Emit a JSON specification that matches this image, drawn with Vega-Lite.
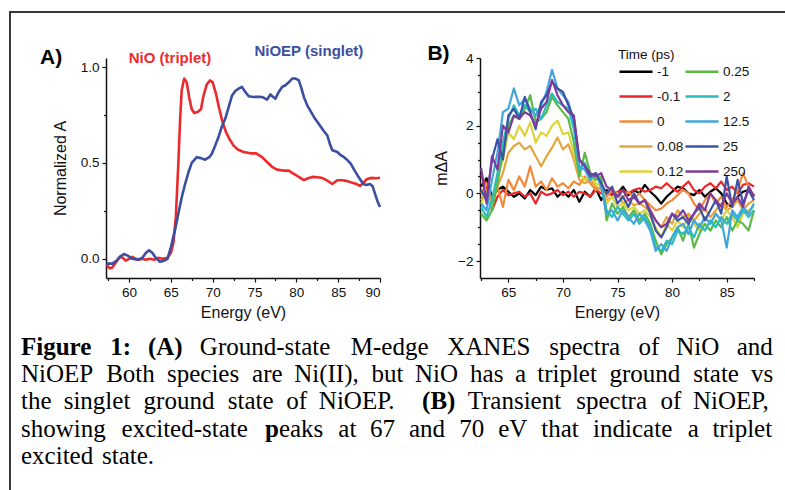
{
"$schema": "https://vega.github.io/schema/vega-lite/v6.json",
"padding": {"left": 7, "top": 9, "right": 0, "bottom": 0},
"background": "white",
"config": {
  "view": {"stroke": null},
  "font": "Liberation Sans",
  "axis": {"labelFont": "Liberation Sans", "titleFont": "Liberation Sans", "labelColor": "#111", "titleColor": "#111", "domainColor": "#111", "tickColor": "#111", "grid": false, "titleFontWeight": "normal", "labelFontSize": 13.5, "titleFontSize": 16, "domainWidth": 1.5, "tickWidth": 1.2, "tickSize": 4, "labelPadding": 3}
},
"datasets": {
  "one": [{}],
  "xanes": [
    {"s":"NiO","e":57.3,"v":-0.03},{"s":"NiO","e":57.7,"v":-0.05},{"s":"NiO","e":58.0,"v":-0.045},{"s":"NiO","e":58.4,"v":-0.02},{"s":"NiO","e":58.9,"v":0.01},{"s":"NiO","e":59.3,"v":0.005},{"s":"NiO","e":59.6,"v":-0.01},{"s":"NiO","e":60.0,"v":0.0},{"s":"NiO","e":60.4,"v":0.01},{"s":"NiO","e":60.8,"v":0.0},{"s":"NiO","e":61.2,"v":-0.005},{"s":"NiO","e":61.6,"v":0.0},{"s":"NiO","e":62.0,"v":-0.005},{"s":"NiO","e":62.5,"v":0.0},{"s":"NiO","e":63.0,"v":-0.005},{"s":"NiO","e":63.5,"v":0.005},{"s":"NiO","e":64.0,"v":0.0},{"s":"NiO","e":64.6,"v":0.005},{"s":"NiO","e":65.0,"v":0.03},{"s":"NiO","e":65.3,"v":0.08},{"s":"NiO","e":65.6,"v":0.22},{"s":"NiO","e":65.9,"v":0.5},{"s":"NiO","e":66.1,"v":0.72},{"s":"NiO","e":66.3,"v":0.88},{"s":"NiO","e":66.6,"v":0.94},{"s":"NiO","e":66.9,"v":0.92},{"s":"NiO","e":67.2,"v":0.84},{"s":"NiO","e":67.5,"v":0.78},{"s":"NiO","e":67.8,"v":0.76},{"s":"NiO","e":68.2,"v":0.765},{"s":"NiO","e":68.6,"v":0.78},{"s":"NiO","e":68.9,"v":0.85},{"s":"NiO","e":69.3,"v":0.91},{"s":"NiO","e":69.7,"v":0.93},{"s":"NiO","e":70.0,"v":0.92},{"s":"NiO","e":70.4,"v":0.86},{"s":"NiO","e":70.8,"v":0.78},{"s":"NiO","e":71.2,"v":0.71},{"s":"NiO","e":71.6,"v":0.66},{"s":"NiO","e":72.0,"v":0.625},{"s":"NiO","e":72.5,"v":0.59},{"s":"NiO","e":73.0,"v":0.57},{"s":"NiO","e":73.7,"v":0.557},{"s":"NiO","e":74.5,"v":0.55},{"s":"NiO","e":75.2,"v":0.55},{"s":"NiO","e":75.9,"v":0.53},{"s":"NiO","e":76.5,"v":0.505},{"s":"NiO","e":77.1,"v":0.48},{"s":"NiO","e":77.7,"v":0.465},{"s":"NiO","e":78.4,"v":0.46},{"s":"NiO","e":79.1,"v":0.46},{"s":"NiO","e":79.6,"v":0.445},{"s":"NiO","e":80.2,"v":0.43},{"s":"NiO","e":80.9,"v":0.41},{"s":"NiO","e":81.4,"v":0.42},{"s":"NiO","e":81.9,"v":0.427},{"s":"NiO","e":82.5,"v":0.425},{"s":"NiO","e":83.0,"v":0.423},{"s":"NiO","e":83.6,"v":0.41},{"s":"NiO","e":84.3,"v":0.39},{"s":"NiO","e":84.9,"v":0.41},{"s":"NiO","e":85.5,"v":0.41},{"s":"NiO","e":86.1,"v":0.405},{"s":"NiO","e":86.7,"v":0.396},{"s":"NiO","e":87.2,"v":0.39},{"s":"NiO","e":87.6,"v":0.38},{"s":"NiO","e":88.0,"v":0.395},{"s":"NiO","e":88.4,"v":0.415},{"s":"NiO","e":89.0,"v":0.422},{"s":"NiO","e":89.5,"v":0.42},{"s":"NiO","e":90.0,"v":0.423},
    {"s":"NiOEP","e":57.3,"v":-0.025},{"s":"NiOEP","e":58.0,"v":-0.025},{"s":"NiOEP","e":58.5,"v":-0.01},{"s":"NiOEP","e":58.9,"v":0.01},{"s":"NiOEP","e":59.4,"v":0.025},{"s":"NiOEP","e":59.9,"v":0.015},{"s":"NiOEP","e":60.4,"v":0.0},{"s":"NiOEP","e":61.0,"v":-0.005},{"s":"NiOEP","e":61.6,"v":0.005},{"s":"NiOEP","e":62.0,"v":0.03},{"s":"NiOEP","e":62.4,"v":0.045},{"s":"NiOEP","e":62.8,"v":0.03},{"s":"NiOEP","e":63.2,"v":0.005},{"s":"NiOEP","e":63.7,"v":-0.015},{"s":"NiOEP","e":64.2,"v":-0.01},{"s":"NiOEP","e":64.6,"v":0.0},{"s":"NiOEP","e":65.0,"v":0.06},{"s":"NiOEP","e":65.5,"v":0.15},{"s":"NiOEP","e":65.9,"v":0.236},{"s":"NiOEP","e":66.3,"v":0.32},{"s":"NiOEP","e":66.7,"v":0.39},{"s":"NiOEP","e":67.1,"v":0.45},{"s":"NiOEP","e":67.5,"v":0.5},{"s":"NiOEP","e":68.1,"v":0.53},{"s":"NiOEP","e":68.6,"v":0.525},{"s":"NiOEP","e":69.1,"v":0.517},{"s":"NiOEP","e":69.6,"v":0.53},{"s":"NiOEP","e":69.9,"v":0.548},{"s":"NiOEP","e":70.3,"v":0.59},{"s":"NiOEP","e":70.7,"v":0.635},{"s":"NiOEP","e":71.1,"v":0.69},{"s":"NiOEP","e":71.5,"v":0.73},{"s":"NiOEP","e":71.9,"v":0.79},{"s":"NiOEP","e":72.3,"v":0.85},{"s":"NiOEP","e":72.7,"v":0.875},{"s":"NiOEP","e":73.1,"v":0.887},{"s":"NiOEP","e":73.5,"v":0.896},{"s":"NiOEP","e":73.9,"v":0.87},{"s":"NiOEP","e":74.3,"v":0.848},{"s":"NiOEP","e":74.9,"v":0.844},{"s":"NiOEP","e":75.5,"v":0.845},{"s":"NiOEP","e":75.9,"v":0.844},{"s":"NiOEP","e":76.5,"v":0.83},{"s":"NiOEP","e":76.9,"v":0.857},{"s":"NiOEP","e":77.2,"v":0.845},{"s":"NiOEP","e":77.5,"v":0.835},{"s":"NiOEP","e":77.9,"v":0.87},{"s":"NiOEP","e":78.3,"v":0.896},{"s":"NiOEP","e":78.7,"v":0.905},{"s":"NiOEP","e":79.1,"v":0.92},{"s":"NiOEP","e":79.5,"v":0.94},{"s":"NiOEP","e":79.9,"v":0.94},{"s":"NiOEP","e":80.3,"v":0.93},{"s":"NiOEP","e":80.6,"v":0.89},{"s":"NiOEP","e":80.9,"v":0.844},{"s":"NiOEP","e":81.3,"v":0.8},{"s":"NiOEP","e":81.7,"v":0.77},{"s":"NiOEP","e":82.1,"v":0.74},{"s":"NiOEP","e":82.5,"v":0.715},{"s":"NiOEP","e":82.9,"v":0.69},{"s":"NiOEP","e":83.3,"v":0.665},{"s":"NiOEP","e":83.7,"v":0.644},{"s":"NiOEP","e":84.0,"v":0.6},{"s":"NiOEP","e":84.3,"v":0.566},{"s":"NiOEP","e":84.9,"v":0.557},{"s":"NiOEP","e":85.3,"v":0.54},{"s":"NiOEP","e":85.7,"v":0.53},{"s":"NiOEP","e":86.1,"v":0.515},{"s":"NiOEP","e":86.5,"v":0.496},{"s":"NiOEP","e":86.9,"v":0.465},{"s":"NiOEP","e":87.3,"v":0.436},{"s":"NiOEP","e":87.7,"v":0.41},{"s":"NiOEP","e":88.0,"v":0.39},{"s":"NiOEP","e":88.4,"v":0.385},{"s":"NiOEP","e":88.8,"v":0.39},{"s":"NiOEP","e":89.1,"v":0.38},{"s":"NiOEP","e":89.4,"v":0.34},{"s":"NiOEP","e":89.7,"v":0.3},{"s":"NiOEP","e":90.0,"v":0.27}
  ],
  "tagsA": [{"e": 50.7, "v": 1.047, "text": "A)"}],
  "speciesA": [{"e": 64.9, "v": 1.047, "text": "NiO (triplet)", "s": "NiO"}, {"e": 81.5, "v": 1.083, "text": "NiOEP (singlet)", "s": "NiOEP"}],
  "tagsB": [{"e": 58.6, "v": 4.11, "text": "B)"}],
  "transient": [
    {"t":"-1","e":62.5,"v":0.2},{"t":"-1","e":63,"v":0.45},{"t":"-1","e":63.5,"v":-0.1},{"t":"-1","e":64,"v":0.1},{"t":"-1","e":64.5,"v":0.2},{"t":"-1","e":65,"v":0.05},{"t":"-1","e":65.5,"v":-0.1},{"t":"-1","e":66,"v":0},{"t":"-1","e":66.5,"v":-0.15},{"t":"-1","e":67,"v":0.1},{"t":"-1","e":67.5,"v":-0.05},{"t":"-1","e":68,"v":0.2},{"t":"-1","e":68.5,"v":0.1},{"t":"-1","e":69,"v":0.15},{"t":"-1","e":69.5,"v":-0.1},{"t":"-1","e":70,"v":0.05},{"t":"-1","e":70.5,"v":-0.1},{"t":"-1","e":71,"v":0.1},{"t":"-1","e":71.5,"v":-0.25},{"t":"-1","e":72,"v":0.05},{"t":"-1","e":72.5,"v":-0.1},{"t":"-1","e":73,"v":0.15},{"t":"-1","e":73.5,"v":-0.2},{"t":"-1","e":74,"v":0.1},{"t":"-1","e":74.5,"v":-0.05},{"t":"-1","e":75,"v":0},{"t":"-1","e":75.5,"v":0.2},{"t":"-1","e":76,"v":-0.05},{"t":"-1","e":76.5,"v":0.1},{"t":"-1","e":77,"v":0},{"t":"-1","e":77.5,"v":0.25},{"t":"-1","e":78,"v":0.05},{"t":"-1","e":78.5,"v":-0.1},{"t":"-1","e":79,"v":-0.3},{"t":"-1","e":79.5,"v":-0.1},{"t":"-1","e":80,"v":0.05},{"t":"-1","e":80.5,"v":0.2},{"t":"-1","e":81,"v":0.15},{"t":"-1","e":81.5,"v":0},{"t":"-1","e":82,"v":-0.05},{"t":"-1","e":82.5,"v":0.1},{"t":"-1","e":83,"v":-0.1},{"t":"-1","e":83.5,"v":0.05},{"t":"-1","e":84,"v":0.15},{"t":"-1","e":84.5,"v":0},{"t":"-1","e":85,"v":-0.3},{"t":"-1","e":85.5,"v":-0.4},{"t":"-1","e":86,"v":-0.1},{"t":"-1","e":86.5,"v":0.05},{"t":"-1","e":87,"v":0.1},{"t":"-1","e":87.5,"v":-0.05},
    {"t":"-0.1","e":62.5,"v":0.55},{"t":"-0.1","e":63,"v":0.2},{"t":"-0.1","e":63.5,"v":-0.5},{"t":"-0.1","e":64,"v":-0.1},{"t":"-0.1","e":64.5,"v":0.1},{"t":"-0.1","e":65,"v":-0.05},{"t":"-0.1","e":65.5,"v":0},{"t":"-0.1","e":66,"v":0.05},{"t":"-0.1","e":66.5,"v":-0.1},{"t":"-0.1","e":67,"v":0},{"t":"-0.1","e":67.5,"v":-0.3},{"t":"-0.1","e":68,"v":0.05},{"t":"-0.1","e":68.5,"v":-0.05},{"t":"-0.1","e":69,"v":0},{"t":"-0.1","e":69.5,"v":0.1},{"t":"-0.1","e":70,"v":-0.05},{"t":"-0.1","e":70.5,"v":0.05},{"t":"-0.1","e":71,"v":-0.1},{"t":"-0.1","e":71.5,"v":0.05},{"t":"-0.1","e":72,"v":0},{"t":"-0.1","e":72.5,"v":-0.1},{"t":"-0.1","e":73,"v":0.1},{"t":"-0.1","e":73.5,"v":0},{"t":"-0.1","e":74,"v":-0.05},{"t":"-0.1","e":74.5,"v":0},{"t":"-0.1","e":75,"v":0.05},{"t":"-0.1","e":75.5,"v":0.1},{"t":"-0.1","e":76,"v":0},{"t":"-0.1","e":76.5,"v":0.1},{"t":"-0.1","e":77,"v":0.15},{"t":"-0.1","e":77.5,"v":0.05},{"t":"-0.1","e":78,"v":0.1},{"t":"-0.1","e":78.5,"v":0.2},{"t":"-0.1","e":79,"v":0.15},{"t":"-0.1","e":79.5,"v":0.3},{"t":"-0.1","e":80,"v":0.15},{"t":"-0.1","e":80.5,"v":0.05},{"t":"-0.1","e":81,"v":0.2},{"t":"-0.1","e":81.5,"v":0.35},{"t":"-0.1","e":82,"v":0.1},{"t":"-0.1","e":82.5,"v":0},{"t":"-0.1","e":83,"v":0.2},{"t":"-0.1","e":83.5,"v":0.3},{"t":"-0.1","e":84,"v":0.15},{"t":"-0.1","e":84.5,"v":0.35},{"t":"-0.1","e":85,"v":0.1},{"t":"-0.1","e":85.5,"v":0.2},{"t":"-0.1","e":86,"v":0},{"t":"-0.1","e":86.5,"v":0.25},{"t":"-0.1","e":87,"v":0.3},{"t":"-0.1","e":87.5,"v":0.2},
    {"t":"0","e":62.5,"v":0},{"t":"0","e":63,"v":0.3},{"t":"0","e":63.5,"v":-0.2},{"t":"0","e":64,"v":0.2},{"t":"0","e":64.5,"v":-0.4},{"t":"0","e":65,"v":0.4},{"t":"0","e":65.5,"v":0.1},{"t":"0","e":66,"v":0.5},{"t":"0","e":66.5,"v":0.2},{"t":"0","e":67,"v":0.8},{"t":"0","e":67.5,"v":0.2},{"t":"0","e":68,"v":0.35},{"t":"0","e":68.5,"v":0.1},{"t":"0","e":69,"v":0.45},{"t":"0","e":69.5,"v":0.2},{"t":"0","e":70,"v":0.3},{"t":"0","e":70.5,"v":0.15},{"t":"0","e":71,"v":0.35},{"t":"0","e":71.5,"v":0.25},{"t":"0","e":72,"v":0.5},{"t":"0","e":72.5,"v":0.3},{"t":"0","e":73,"v":0.1},{"t":"0","e":73.5,"v":0.2},{"t":"0","e":74,"v":-0.1},{"t":"0","e":74.5,"v":0.1},{"t":"0","e":75,"v":0},{"t":"0","e":75.5,"v":-0.1},{"t":"0","e":76,"v":0.05},{"t":"0","e":76.5,"v":-0.15},{"t":"0","e":77,"v":0},{"t":"0","e":77.5,"v":-0.2},{"t":"0","e":78,"v":-0.35},{"t":"0","e":78.5,"v":-0.5},{"t":"0","e":79,"v":-0.45},{"t":"0","e":79.5,"v":-0.3},{"t":"0","e":80,"v":-0.2},{"t":"0","e":80.5,"v":-0.05},{"t":"0","e":81,"v":0.1},{"t":"0","e":81.5,"v":0},{"t":"0","e":82,"v":-0.3},{"t":"0","e":82.5,"v":-0.5},{"t":"0","e":83,"v":-0.2},{"t":"0","e":83.5,"v":0},{"t":"0","e":84,"v":-0.3},{"t":"0","e":84.5,"v":-0.1},{"t":"0","e":85,"v":-0.4},{"t":"0","e":85.5,"v":-0.2},{"t":"0","e":86,"v":0.1},{"t":"0","e":86.5,"v":0.6},{"t":"0","e":87,"v":0.2},{"t":"0","e":87.5,"v":-0.1},
    {"t":"0.08","e":62.5,"v":-0.2},{"t":"0.08","e":63,"v":0.1},{"t":"0.08","e":63.5,"v":-0.3},{"t":"0.08","e":64,"v":0.2},{"t":"0.08","e":64.5,"v":0.6},{"t":"0.08","e":65,"v":1.2},{"t":"0.08","e":65.5,"v":1.4},{"t":"0.08","e":66,"v":1.5},{"t":"0.08","e":66.5,"v":1.3},{"t":"0.08","e":67,"v":1.4},{"t":"0.08","e":67.5,"v":1.1},{"t":"0.08","e":68,"v":0.8},{"t":"0.08","e":68.5,"v":1.1},{"t":"0.08","e":69,"v":1.35},{"t":"0.08","e":69.5,"v":1.65},{"t":"0.08","e":70,"v":1.3},{"t":"0.08","e":70.5,"v":1.45},{"t":"0.08","e":71,"v":1.0},{"t":"0.08","e":71.5,"v":0.4},{"t":"0.08","e":72,"v":0.3},{"t":"0.08","e":72.5,"v":0.4},{"t":"0.08","e":73,"v":0.2},{"t":"0.08","e":73.5,"v":0.1},{"t":"0.08","e":74,"v":-0.2},{"t":"0.08","e":74.5,"v":-0.1},{"t":"0.08","e":75,"v":0},{"t":"0.08","e":75.5,"v":-0.3},{"t":"0.08","e":76,"v":-0.2},{"t":"0.08","e":76.5,"v":-0.35},{"t":"0.08","e":77,"v":-0.3},{"t":"0.08","e":77.5,"v":-0.4},{"t":"0.08","e":78,"v":-0.55},{"t":"0.08","e":78.5,"v":-0.8},{"t":"0.08","e":79,"v":-1.0},{"t":"0.08","e":79.5,"v":-0.7},{"t":"0.08","e":80,"v":-0.9},{"t":"0.08","e":80.5,"v":-0.5},{"t":"0.08","e":81,"v":-0.7},{"t":"0.08","e":81.5,"v":-0.6},{"t":"0.08","e":82,"v":-0.8},{"t":"0.08","e":82.5,"v":-0.6},{"t":"0.08","e":83,"v":-0.45},{"t":"0.08","e":83.5,"v":-0.7},{"t":"0.08","e":84,"v":-0.5},{"t":"0.08","e":84.5,"v":-0.3},{"t":"0.08","e":85,"v":-0.5},{"t":"0.08","e":85.5,"v":-0.4},{"t":"0.08","e":86,"v":-0.2},{"t":"0.08","e":86.5,"v":-0.5},{"t":"0.08","e":87,"v":-0.3},{"t":"0.08","e":87.5,"v":-0.2},
    {"t":"0.12","e":62.5,"v":-0.3},{"t":"0.12","e":63,"v":0},{"t":"0.12","e":63.5,"v":-0.4},{"t":"0.12","e":64,"v":0.5},{"t":"0.12","e":64.5,"v":1.0},{"t":"0.12","e":65,"v":1.8},{"t":"0.12","e":65.5,"v":1.6},{"t":"0.12","e":66,"v":2.0},{"t":"0.12","e":66.5,"v":1.7},{"t":"0.12","e":67,"v":2.1},{"t":"0.12","e":67.5,"v":1.5},{"t":"0.12","e":68,"v":1.8},{"t":"0.12","e":68.5,"v":1.7},{"t":"0.12","e":69,"v":2.0},{"t":"0.12","e":69.5,"v":2.15},{"t":"0.12","e":70,"v":1.75},{"t":"0.12","e":70.5,"v":1.8},{"t":"0.12","e":71,"v":1.2},{"t":"0.12","e":71.5,"v":0.6},{"t":"0.12","e":72,"v":0.4},{"t":"0.12","e":72.5,"v":0.5},{"t":"0.12","e":73,"v":0.3},{"t":"0.12","e":73.5,"v":0.2},{"t":"0.12","e":74,"v":-0.3},{"t":"0.12","e":74.5,"v":-0.1},{"t":"0.12","e":75,"v":-0.4},{"t":"0.12","e":75.5,"v":-0.3},{"t":"0.12","e":76,"v":-0.5},{"t":"0.12","e":76.5,"v":-0.4},{"t":"0.12","e":77,"v":-0.6},{"t":"0.12","e":77.5,"v":-0.5},{"t":"0.12","e":78,"v":-0.7},{"t":"0.12","e":78.5,"v":-1.0},{"t":"0.12","e":79,"v":-1.3},{"t":"0.12","e":79.5,"v":-0.9},{"t":"0.12","e":80,"v":-1.1},{"t":"0.12","e":80.5,"v":-0.8},{"t":"0.12","e":81,"v":-1.0},{"t":"0.12","e":81.5,"v":-0.7},{"t":"0.12","e":82,"v":-0.9},{"t":"0.12","e":82.5,"v":-1.1},{"t":"0.12","e":83,"v":-0.7},{"t":"0.12","e":83.5,"v":-0.9},{"t":"0.12","e":84,"v":-0.6},{"t":"0.12","e":84.5,"v":-0.8},{"t":"0.12","e":85,"v":-0.5},{"t":"0.12","e":85.5,"v":-0.7},{"t":"0.12","e":86,"v":-1.0},{"t":"0.12","e":86.5,"v":-0.6},{"t":"0.12","e":87,"v":-0.5},{"t":"0.12","e":87.5,"v":-0.4},
    {"t":"0.25","e":62.5,"v":-0.6},{"t":"0.25","e":63,"v":-0.8},{"t":"0.25","e":63.5,"v":-0.5},{"t":"0.25","e":64,"v":0.3},{"t":"0.25","e":64.5,"v":1.2},{"t":"0.25","e":65,"v":2.0},{"t":"0.25","e":65.5,"v":2.3},{"t":"0.25","e":66,"v":2.2},{"t":"0.25","e":66.5,"v":2.5},{"t":"0.25","e":67,"v":2.9},{"t":"0.25","e":67.5,"v":2.1},{"t":"0.25","e":68,"v":2.2},{"t":"0.25","e":68.5,"v":2.4},{"t":"0.25","e":69,"v":2.85},{"t":"0.25","e":69.5,"v":2.6},{"t":"0.25","e":70,"v":2.4},{"t":"0.25","e":70.5,"v":2.2},{"t":"0.25","e":71,"v":1.5},{"t":"0.25","e":71.5,"v":0.5},{"t":"0.25","e":72,"v":1.2},{"t":"0.25","e":72.5,"v":0.6},{"t":"0.25","e":73,"v":0.4},{"t":"0.25","e":73.5,"v":0.5},{"t":"0.25","e":74,"v":-0.8},{"t":"0.25","e":74.5,"v":-0.3},{"t":"0.25","e":75,"v":-0.6},{"t":"0.25","e":75.5,"v":-0.4},{"t":"0.25","e":76,"v":-0.7},{"t":"0.25","e":76.5,"v":-0.5},{"t":"0.25","e":77,"v":-0.8},{"t":"0.25","e":77.5,"v":-0.6},{"t":"0.25","e":78,"v":-0.9},{"t":"0.25","e":78.5,"v":-1.4},{"t":"0.25","e":79,"v":-1.8},{"t":"0.25","e":79.5,"v":-1.5},{"t":"0.25","e":80,"v":-1.3},{"t":"0.25","e":80.5,"v":-1.0},{"t":"0.25","e":81,"v":-1.4},{"t":"0.25","e":81.5,"v":-0.9},{"t":"0.25","e":82,"v":-1.6},{"t":"0.25","e":82.5,"v":-1.2},{"t":"0.25","e":83,"v":-0.9},{"t":"0.25","e":83.5,"v":-1.1},{"t":"0.25","e":84,"v":-0.8},{"t":"0.25","e":84.5,"v":-1.0},{"t":"0.25","e":85,"v":-0.7},{"t":"0.25","e":85.5,"v":-1.1},{"t":"0.25","e":86,"v":-0.8},{"t":"0.25","e":86.5,"v":-0.9},{"t":"0.25","e":87,"v":-1.1},{"t":"0.25","e":87.5,"v":-0.5},
    {"t":"2","e":62.5,"v":-0.4},{"t":"2","e":63,"v":-0.7},{"t":"2","e":63.5,"v":-0.2},{"t":"2","e":64,"v":0.6},{"t":"2","e":64.5,"v":1.5},{"t":"2","e":65,"v":2.2},{"t":"2","e":65.5,"v":2.6},{"t":"2","e":66,"v":2.3},{"t":"2","e":66.5,"v":2.6},{"t":"2","e":67,"v":2.4},{"t":"2","e":67.5,"v":2.5},{"t":"2","e":68,"v":2.2},{"t":"2","e":68.5,"v":2.6},{"t":"2","e":69,"v":2.95},{"t":"2","e":69.5,"v":2.7},{"t":"2","e":70,"v":2.6},{"t":"2","e":70.5,"v":2.5},{"t":"2","e":71,"v":1.9},{"t":"2","e":71.5,"v":0.7},{"t":"2","e":72,"v":0.9},{"t":"2","e":72.5,"v":0.5},{"t":"2","e":73,"v":0.6},{"t":"2","e":73.5,"v":0.3},{"t":"2","e":74,"v":-0.5},{"t":"2","e":74.5,"v":-0.7},{"t":"2","e":75,"v":-0.4},{"t":"2","e":75.5,"v":-0.6},{"t":"2","e":76,"v":-0.8},{"t":"2","e":76.5,"v":-0.6},{"t":"2","e":77,"v":-0.9},{"t":"2","e":77.5,"v":-0.7},{"t":"2","e":78,"v":-1.0},{"t":"2","e":78.5,"v":-1.6},{"t":"2","e":79,"v":-1.7},{"t":"2","e":79.5,"v":-1.4},{"t":"2","e":80,"v":-1.5},{"t":"2","e":80.5,"v":-1.1},{"t":"2","e":81,"v":-1.2},{"t":"2","e":81.5,"v":-1.0},{"t":"2","e":82,"v":-1.3},{"t":"2","e":82.5,"v":-0.9},{"t":"2","e":83,"v":-1.1},{"t":"2","e":83.5,"v":-0.8},{"t":"2","e":84,"v":-1.0},{"t":"2","e":84.5,"v":-0.7},{"t":"2","e":85,"v":-0.9},{"t":"2","e":85.5,"v":-0.6},{"t":"2","e":86,"v":-0.8},{"t":"2","e":86.5,"v":-0.5},{"t":"2","e":87,"v":-0.7},{"t":"2","e":87.5,"v":-0.5},
    {"t":"12.5","e":62.5,"v":-0.3},{"t":"12.5","e":63,"v":-0.5},{"t":"12.5","e":63.5,"v":0.4},{"t":"12.5","e":64,"v":1.2},{"t":"12.5","e":64.5,"v":2.4},{"t":"12.5","e":65,"v":2.5},{"t":"12.5","e":65.5,"v":3.1},{"t":"12.5","e":66,"v":2.6},{"t":"12.5","e":66.5,"v":2.8},{"t":"12.5","e":67,"v":2.5},{"t":"12.5","e":67.5,"v":2.3},{"t":"12.5","e":68,"v":2.6},{"t":"12.5","e":68.5,"v":3.0},{"t":"12.5","e":69,"v":3.65},{"t":"12.5","e":69.5,"v":3.1},{"t":"12.5","e":70,"v":2.9},{"t":"12.5","e":70.5,"v":2.7},{"t":"12.5","e":71,"v":2.1},{"t":"12.5","e":71.5,"v":0.8},{"t":"12.5","e":72,"v":0.7},{"t":"12.5","e":72.5,"v":0.4},{"t":"12.5","e":73,"v":0.6},{"t":"12.5","e":73.5,"v":0.2},{"t":"12.5","e":74,"v":-0.6},{"t":"12.5","e":74.5,"v":-0.5},{"t":"12.5","e":75,"v":-0.8},{"t":"12.5","e":75.5,"v":-0.5},{"t":"12.5","e":76,"v":-0.7},{"t":"12.5","e":76.5,"v":-0.9},{"t":"12.5","e":77,"v":-0.6},{"t":"12.5","e":77.5,"v":-0.8},{"t":"12.5","e":78,"v":-1.1},{"t":"12.5","e":78.5,"v":-1.7},{"t":"12.5","e":79,"v":-1.5},{"t":"12.5","e":79.5,"v":-1.7},{"t":"12.5","e":80,"v":-1.3},{"t":"12.5","e":80.5,"v":-1.0},{"t":"12.5","e":81,"v":-0.9},{"t":"12.5","e":81.5,"v":-1.2},{"t":"12.5","e":82,"v":-0.8},{"t":"12.5","e":82.5,"v":-1.0},{"t":"12.5","e":83,"v":-0.7},{"t":"12.5","e":83.5,"v":-0.9},{"t":"12.5","e":84,"v":-0.6},{"t":"12.5","e":84.5,"v":-0.8},{"t":"12.5","e":85,"v":-1.6},{"t":"12.5","e":85.5,"v":-0.5},{"t":"12.5","e":86,"v":-0.7},{"t":"12.5","e":86.5,"v":-0.4},{"t":"12.5","e":87,"v":-0.6},{"t":"12.5","e":87.5,"v":-0.3},
    {"t":"25","e":62.5,"v":0.1},{"t":"25","e":63,"v":-0.2},{"t":"25","e":63.5,"v":1.0},{"t":"25","e":64,"v":1.6},{"t":"25","e":64.5,"v":1.0},{"t":"25","e":65,"v":2.3},{"t":"25","e":65.5,"v":2.5},{"t":"25","e":66,"v":2.2},{"t":"25","e":66.5,"v":2.85},{"t":"25","e":67,"v":2.4},{"t":"25","e":67.5,"v":1.9},{"t":"25","e":68,"v":2.7},{"t":"25","e":68.5,"v":2.9},{"t":"25","e":69,"v":3.3},{"t":"25","e":69.5,"v":3.1},{"t":"25","e":70,"v":3.0},{"t":"25","e":70.5,"v":2.6},{"t":"25","e":71,"v":2.2},{"t":"25","e":71.5,"v":1.0},{"t":"25","e":72,"v":0.8},{"t":"25","e":72.5,"v":0.5},{"t":"25","e":73,"v":0.6},{"t":"25","e":73.5,"v":0.3},{"t":"25","e":74,"v":0},{"t":"25","e":74.5,"v":0.2},{"t":"25","e":75,"v":-0.3},{"t":"25","e":75.5,"v":-0.1},{"t":"25","e":76,"v":-0.4},{"t":"25","e":76.5,"v":0},{"t":"25","e":77,"v":-0.3},{"t":"25","e":77.5,"v":-0.2},{"t":"25","e":78,"v":-0.6},{"t":"25","e":78.5,"v":-1.1},{"t":"25","e":79,"v":-1.3},{"t":"25","e":79.5,"v":-1.0},{"t":"25","e":80,"v":-0.6},{"t":"25","e":80.5,"v":-0.8},{"t":"25","e":81,"v":-0.7},{"t":"25","e":81.5,"v":-0.9},{"t":"25","e":82,"v":-0.6},{"t":"25","e":82.5,"v":-0.4},{"t":"25","e":83,"v":-0.8},{"t":"25","e":83.5,"v":-0.5},{"t":"25","e":84,"v":-0.2},{"t":"25","e":84.5,"v":-0.6},{"t":"25","e":85,"v":0.5},{"t":"25","e":85.5,"v":-0.4},{"t":"25","e":86,"v":0.4},{"t":"25","e":86.5,"v":-0.3},{"t":"25","e":87,"v":0.1},{"t":"25","e":87.5,"v":-0.2},
    {"t":"250","e":62.5,"v":0.75},{"t":"250","e":63,"v":-0.3},{"t":"250","e":63.5,"v":1.1},{"t":"250","e":64,"v":0.7},{"t":"250","e":64.5,"v":2.0},{"t":"250","e":65,"v":1.8},{"t":"250","e":65.5,"v":2.3},{"t":"250","e":66,"v":2.2},{"t":"250","e":66.5,"v":2.4},{"t":"250","e":67,"v":2.3},{"t":"250","e":67.5,"v":2.0},{"t":"250","e":68,"v":2.5},{"t":"250","e":68.5,"v":2.7},{"t":"250","e":69,"v":3.35},{"t":"250","e":69.5,"v":2.9},{"t":"250","e":70,"v":2.6},{"t":"250","e":70.5,"v":2.4},{"t":"250","e":71,"v":2.3},{"t":"250","e":71.5,"v":1.0},{"t":"250","e":72,"v":0.8},{"t":"250","e":72.5,"v":0.6},{"t":"250","e":73,"v":0.5},{"t":"250","e":73.5,"v":0.6},{"t":"250","e":74,"v":0.2},{"t":"250","e":74.5,"v":0.1},{"t":"250","e":75,"v":-0.1},{"t":"250","e":75.5,"v":0.1},{"t":"250","e":76,"v":-0.2},{"t":"250","e":76.5,"v":-0.1},{"t":"250","e":77,"v":-0.3},{"t":"250","e":77.5,"v":-0.2},{"t":"250","e":78,"v":-0.5},{"t":"250","e":78.5,"v":-0.8},{"t":"250","e":79,"v":-1.0},{"t":"250","e":79.5,"v":-0.9},{"t":"250","e":80,"v":-0.6},{"t":"250","e":80.5,"v":-0.7},{"t":"250","e":81,"v":-0.5},{"t":"250","e":81.5,"v":-0.8},{"t":"250","e":82,"v":-0.6},{"t":"250","e":82.5,"v":-0.3},{"t":"250","e":83,"v":-0.5},{"t":"250","e":83.5,"v":0},{"t":"250","e":84,"v":-0.2},{"t":"250","e":84.5,"v":-0.4},{"t":"250","e":85,"v":0},{"t":"250","e":85.5,"v":-0.3},{"t":"250","e":86,"v":-0.1},{"t":"250","e":86.5,"v":-0.4},{"t":"250","e":87,"v":0.2},{"t":"250","e":87.5,"v":-0.1}
  ],
  "caption": [
    {"line":1,"at":12,"text":"Figure","role":"label"},{"line":1,"at":101.25,"text":"1:","role":"label"},{"line":1,"at":138.9,"text":"(A)","role":"label"},
    {"line":1,"at":190.87,"text":"Ground-state","role":"body"},{"line":1,"at":341.73,"text":"M-edge","role":"body"},{"line":1,"at":438.13,"text":"XANES","role":"body"},{"line":1,"at":540.28,"text":"spectra","role":"body"},{"line":1,"at":629.51,"text":"of","role":"body"},{"line":1,"at":667.16,"text":"NiO","role":"body"},{"line":1,"at":727.75,"text":"and","role":"body"},
    {"line":2,"at":12,"text":"NiOEP","role":"body"},{"line":2,"at":97.16,"text":"Both","role":"body"},{"line":2,"at":157.96,"text":"species","role":"body"},{"line":2,"at":243.09,"text":"are","role":"body"},{"line":2,"at":285.21,"text":"Ni(II),","role":"body"},{"line":2,"at":362.45,"text":"but","role":"body"},{"line":2,"at":406.04,"text":"NiO","role":"body"},{"line":2,"at":461.09,"text":"has","role":"body"},{"line":2,"at":506.1,"text":"a","role":"body"},{"line":2,"at":528.18,"text":"triplet","role":"body"},{"line":2,"at":600.44,"text":"ground","role":"body"},{"line":2,"at":684.15,"text":"state","role":"body"},{"line":2,"at":742.06,"text":"vs","role":"body"},
    {"line":3,"at":12,"text":"the","role":"body"},{"line":3,"at":54.66,"text":"singlet","role":"body"},{"line":3,"at":134.6,"text":"ground","role":"body"},{"line":3,"at":218.82,"text":"state","role":"body"},{"line":3,"at":277.24,"text":"of","role":"body"},{"line":3,"at":309.86,"text":"NiOEP.","role":"body"},{"line":3,"at":413.11,"text":"(B)","role":"label"},{"line":3,"at":458.63,"text":"Transient","role":"body"},{"line":3,"at":567.21,"text":"spectra","role":"body"},{"line":3,"at":651.41,"text":"of","role":"body"},{"line":3,"at":684.03,"text":"NiOEP,","role":"body"},
    {"line":4,"at":12,"text":"showing","role":"body"},{"line":4,"at":112.53,"text":"excited-state","role":"body"},{"line":4,"at":256.01,"text":"p","role":"label"},{"line":4,"at":269.9,"text":"eaks","role":"body"},{"line":4,"at":329.29,"text":"at","role":"body"},{"line":4,"at":361.01,"text":"67","role":"body"},{"line":4,"at":399.9,"text":"and","role":"body"},{"line":4,"at":450.25,"text":"70","role":"body"},{"line":4,"at":489.14,"text":"eV","role":"body"},{"line":4,"at":532.31,"text":"that","role":"body"},{"line":4,"at":584.1,"text":"indicate","role":"body"},{"line":4,"at":678.87,"text":"a","role":"body"},{"line":4,"at":703.42,"text":"triplet","role":"body"},
    {"line":5,"at":12,"text":"excited","role":"body"},{"line":5,"at":92.96,"text":"state.","role":"body"}
  ]
},
"columns": 6,
"spacing": 0,
"bounds": "flush",
"align": "each",
"resolve": {"scale": {"color": "independent"}, "legend": {"color": "independent"}},
"concat": [
  {"width": 2, "height": 2, "view": {"fill": "#383838"}, "data": {"name": "one"}, "mark": {"type": "point", "opacity": 0}},
  {"width": 95, "height": 2, "view": {"fill": "#383838"}, "data": {"name": "one"}, "mark": {"type": "point", "opacity": 0}},
  {"width": 274, "height": 2, "view": {"fill": "#383838"}, "data": {"name": "one"}, "mark": {"type": "point", "opacity": 0}},
  {"width": 100, "height": 2, "view": {"fill": "#383838"}, "data": {"name": "one"}, "mark": {"type": "point", "opacity": 0}},
  {"width": 274, "height": 2, "view": {"fill": "#383838"}, "data": {"name": "one"}, "mark": {"type": "point", "opacity": 0}},
  {"width": 40, "height": 2, "view": {"fill": "#383838"}, "data": {"name": "one"}, "mark": {"type": "point", "opacity": 0}},

  {"width": 2, "height": 45, "view": {"fill": "#383838"}, "data": {"name": "one"}, "mark": {"type": "point", "opacity": 0}},
  {"width": 1, "height": 1, "data": {"name": "one"}, "mark": {"type": "point", "opacity": 0}},
  {"width": 1, "height": 1, "data": {"name": "one"}, "mark": {"type": "point", "opacity": 0}},
  {"width": 1, "height": 1, "data": {"name": "one"}, "mark": {"type": "point", "opacity": 0}},
  {"width": 1, "height": 1, "data": {"name": "one"}, "mark": {"type": "point", "opacity": 0}},
  {"width": 1, "height": 1, "data": {"name": "one"}, "mark": {"type": "point", "opacity": 0}},

  {"width": 2, "height": 220, "view": {"fill": "#383838"}, "data": {"name": "one"}, "mark": {"type": "point", "opacity": 0}},
  {"width": 1, "height": 1, "data": {"name": "one"}, "mark": {"type": "point", "opacity": 0}},
  {
    "width": 274, "height": 220,
    "layer": [
      {"data": {"name": "xanes"}, "mark": {"type": "line", "strokeWidth": 2.6, "strokeJoin": "round"},
       "encoding": {
         "x": {"field": "e", "type": "quantitative", "scale": {"domain": [57.25, 90], "nice": false, "zero": false}, "axis": {"values": [60, 65, 70, 75, 80, 85, 90], "title": "Energy (eV)", "titlePadding": 6}},
         "y": {"field": "v", "type": "quantitative", "scale": {"domain": [-0.1, 1.047], "nice": false, "zero": false}, "axis": {"values": [0, 0.5, 1], "format": ".1f", "title": "Normalized A", "titlePadding": 12}},
         "color": {"field": "s", "type": "nominal", "scale": {"domain": ["NiO", "NiOEP"], "range": ["#ec2a2c", "#3a4fa2"]}, "legend": null}
       }},
      {"data": {"name": "xanes"}, "mark": {"type": "line", "opacity": 0},
       "encoding": {
         "x": {"field": "e", "type": "quantitative", "axis": {"values": [57.5, 62.5, 67.5, 72.5, 77.5, 82.5, 87.5], "labels": false, "domain": false, "tickSize": 2.5, "title": null, "orient": "bottom"}},
         "y": {"field": "v", "type": "quantitative", "axis": {"values": [0.25, 0.75], "labels": false, "domain": false, "tickSize": 2.5, "title": null, "orient": "left"}}
       }},
      {"data": {"name": "tagsA"}, "mark": {"type": "text", "fontSize": 21, "fontWeight": "bold", "color": "#000"},
       "encoding": {"x": {"field": "e", "type": "quantitative", "axis": null}, "y": {"field": "v", "type": "quantitative", "axis": null}, "text": {"field": "text"}}},
      {"data": {"name": "speciesA"}, "mark": {"type": "text", "fontSize": 15, "fontWeight": "bold"},
       "encoding": {"x": {"field": "e", "type": "quantitative", "axis": null}, "y": {"field": "v", "type": "quantitative", "axis": null}, "text": {"field": "text"}, "color": {"field": "s", "type": "nominal", "legend": null}}}
    ],
    "resolve": {"axis": {"x": "independent", "y": "independent"}}
  },
  {"width": 1, "height": 1, "data": {"name": "one"}, "mark": {"type": "point", "opacity": 0}},
  {
    "width": 274, "height": 220,
    "layer": [
      {"data": {"name": "transient"}, "mark": {"type": "line", "strokeWidth": 2.2, "strokeJoin": "round"},
       "encoding": {
         "x": {"field": "e", "type": "quantitative", "scale": {"domain": [62.4, 87.5], "nice": false, "zero": false}, "axis": {"values": [65, 70, 75, 80, 85], "title": "Energy (eV)", "titlePadding": 6}},
         "y": {"field": "v", "type": "quantitative", "scale": {"domain": [-2.5, 4], "nice": false, "zero": false}, "axis": {"values": [-2, 0, 2, 4], "format": "d", "title": "mΔA", "titlePadding": 8}},
         "color": {"field": "t", "type": "nominal",
           "scale": {"domain": ["-1", "-0.1", "0", "0.08", "0.12", "0.25", "2", "12.5", "25", "250"], "range": ["#000000", "#e8262b", "#f08b3c", "#e4a43e", "#dcd43e", "#5cb947", "#2bbdbd", "#40a6dc", "#3b53a6", "#7d3c9c"]},
           "legend": {"orient": "none", "legendX": 138, "legendY": -10, "columns": 2, "title": "Time (ps)", "titleFont": "Liberation Sans", "titleFontSize": 13.5, "titleFontWeight": "normal", "titleColor": "#111", "labelFont": "Liberation Sans", "labelFontSize": 13.5, "labelColor": "#111", "symbolType": "stroke", "symbolSize": 1089, "symbolStrokeWidth": 2.6, "columnPadding": -5, "rowPadding": -2, "labelOffset": 3, "titlePadding": -8, "padding": 0}}
       }},
      {"data": {"name": "transient"}, "mark": {"type": "line", "opacity": 0},
       "encoding": {
         "x": {"field": "e", "type": "quantitative", "axis": {"values": [62.5, 67.5, 72.5, 77.5, 82.5, 87.5], "labels": false, "domain": false, "tickSize": 2.5, "title": null, "orient": "bottom"}},
         "y": {"field": "v", "type": "quantitative", "axis": {"values": [-1.5, -1, -0.5, 0.5, 1, 1.5, 2.5, 3, 3.5], "labels": false, "domain": false, "tickSize": 2.5, "title": null, "orient": "left"}}
       }},
      {"data": {"name": "tagsB"}, "mark": {"type": "text", "fontSize": 21, "fontWeight": "bold", "color": "#000"},
       "encoding": {"x": {"field": "e", "type": "quantitative", "axis": null}, "y": {"field": "v", "type": "quantitative", "axis": null}, "text": {"field": "text"}}}
    ],
    "resolve": {"axis": {"x": "independent", "y": "independent"}}
  },
  {"width": 1, "height": 1, "data": {"name": "one"}, "mark": {"type": "point", "opacity": 0}},

  {"width": 2, "height": 46, "view": {"fill": "#383838"}, "data": {"name": "one"}, "mark": {"type": "point", "opacity": 0}},
  {"width": 1, "height": 1, "data": {"name": "one"}, "mark": {"type": "point", "opacity": 0}},
  {"width": 1, "height": 1, "data": {"name": "one"}, "mark": {"type": "point", "opacity": 0}},
  {"width": 1, "height": 1, "data": {"name": "one"}, "mark": {"type": "point", "opacity": 0}},
  {"width": 1, "height": 1, "data": {"name": "one"}, "mark": {"type": "point", "opacity": 0}},
  {"width": 1, "height": 1, "data": {"name": "one"}, "mark": {"type": "point", "opacity": 0}},

  {
    "width": 2, "height": 168,
    "view": {"fill": "#383838"},
    "data": {"name": "caption"},
    "encoding": {
      "x": {"field": "at", "type": "quantitative", "scale": {"domain": [0, 2], "nice": false, "zero": false}, "axis": null},
      "y": {"field": "line", "type": "quantitative", "scale": {"domain": [-0.1376, 6.028], "reverse": true, "nice": false, "zero": false}, "axis": null},
      "text": {"field": "text"}
    },
    "layer": [
      {"transform": [{"filter": "datum.role == 'body'"}], "mark": {"type": "text", "align": "left", "baseline": "alphabetic", "font": "Liberation Serif", "fontSize": 25, "color": "#000"}},
      {"transform": [{"filter": "datum.role == 'label'"}], "mark": {"type": "text", "align": "left", "baseline": "alphabetic", "font": "Liberation Serif", "fontSize": 25, "fontWeight": "bold", "color": "#000"}}
    ]
  }
]
}
